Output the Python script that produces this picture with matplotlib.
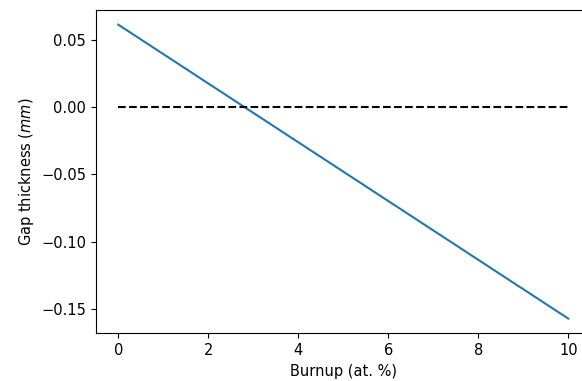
import matplotlib
matplotlib.use('Agg')
import matplotlib.pyplot as plt

# gap thickness vs burnup
burnup = [0, 10]
gap = [0.061, -0.157]
zero_line = [0, 0]

plt.rcParams['font.size'] = 10.5

fig = plt.figure(figsize=(5.82, 3.81), dpi=100)
# axes run a little past the right edge of the canvas
ax = fig.add_axes([0.1646, 0.1252, 0.8505, 0.8486])
ax.plot(burnup, gap)
ax.plot(burnup, zero_line, 'k--')
ax.set_xlabel('Burnup (at. %)')
ax.set_ylabel('Gap thickness ($mm$)')
fig.savefig('out.png')
